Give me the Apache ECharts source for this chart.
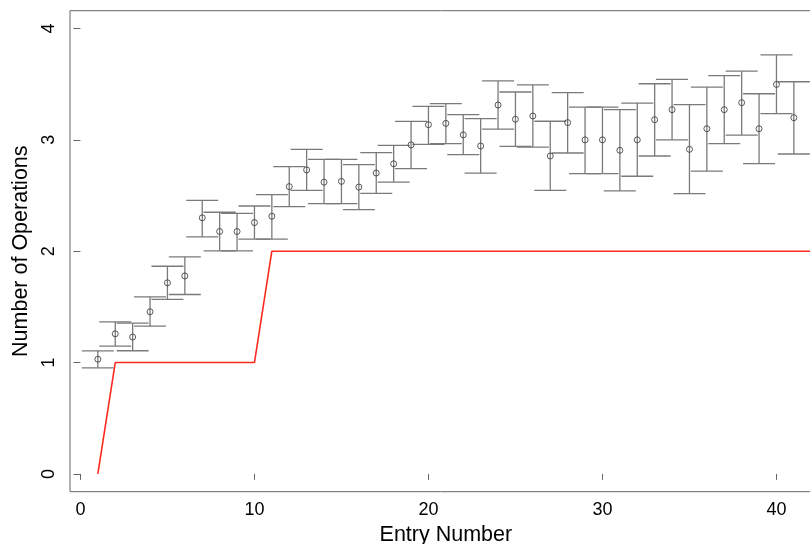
<!DOCTYPE html>
<html>
<head>
<meta charset="utf-8">
<script src="https://cdn.jsdelivr.net/npm/echarts@6/dist/echarts.min.js"></script>
<style>
  html, body { margin: 0; background: #fff; }
  #chart { width: 810px; height: 544px; }
</style>
</head>
<body>
<div id="chart"></div>
<script>
  // 每个条目的平均操作数及误差范围
  const entries = [1, 2, 3, 4, 5, 6, 7, 8, 9, 10, 11, 12, 13, 14, 15, 16, 17, 18, 19, 20,
    21, 22, 23, 24, 25, 26, 27, 28, 29, 30, 31, 32, 33, 34, 35, 36, 37, 38, 39, 40, 41];
  const means = [1.03, 1.258, 1.229, 1.456, 1.716, 1.778, 2.30, 2.177, 2.177, 2.257,
    2.314, 2.58, 2.73, 2.62, 2.627, 2.576, 2.702, 2.785, 2.955, 3.136,
    3.148, 3.045, 2.945, 3.313, 3.185, 3.214, 2.855, 3.155, 3.0, 3.0,
    2.906, 3.0, 3.181, 3.271, 2.915, 3.1, 3.271, 3.334, 3.1, 3.498, 3.199];
  const lower = [0.953, 1.148, 1.106, 1.327, 1.567, 1.611, 2.128, 2.003, 2.003, 2.108,
    2.108, 2.40, 2.547, 2.427, 2.427, 2.373, 2.52, 2.621, 2.742, 2.96,
    2.966, 2.867, 2.702, 3.097, 2.942, 2.935, 2.547, 2.882, 2.697, 2.697,
    2.541, 2.673, 2.855, 3.0, 2.517, 2.72, 2.966, 3.043, 2.786, 3.235, 2.873];
  const upper = [1.105, 1.366, 1.354, 1.59, 1.865, 1.949, 2.457, 2.35, 2.34, 2.406,
    2.508, 2.76, 2.915, 2.825, 2.825, 2.777, 2.886, 2.951, 3.166, 3.30,
    3.325, 3.227, 3.19, 3.529, 3.43, 3.493, 3.167, 3.424, 3.294, 3.294,
    3.271, 3.33, 3.504, 3.543, 3.316, 3.474, 3.576, 3.617, 3.414, 3.764, 3.522];

  // 红色阶梯线
  const stepX = [1, 2, 10, 11, 42.6];
  const stepY = [0, 1, 1, 2, 2];

  const xTicks = [0, 10, 20, 30, 40];
  const yTicks = [0, 1, 2, 3, 4];

  const chart = echarts.init(document.getElementById('chart'));

  const font = 'Liberation Sans, Arial, Helvetica, sans-serif';

  const option = {
    animation: false,
    grid: {
      left: 70,
      top: 10.7,
      width: 751.7,
      height: 481,
      show: true,
      borderColor: '#666',
      borderWidth: 1,
      backgroundColor: 'transparent',
      containLabel: false,
      outerBoundsMode: 'none'
    },
    xAxis: {
      type: 'value',
      min: -0.6,
      max: 42.6,
      name: 'Entry Number',
      nameLocation: 'middle',
      nameGap: 28,
      nameTextStyle: { fontFamily: font, fontSize: 21.5, color: '#000' },
      axisLine: { show: false },
      splitLine: { show: false },
      axisTick: {
        show: true,
        inside: false,
        length: 6,
        customValues: xTicks,
        lineStyle: { color: '#666', width: 1 }
      },
      axisLabel: {
        customValues: xTicks,
        margin: 9,
        fontFamily: font,
        fontSize: 18,
        color: '#000'
      }
    },
    yAxis: {
      type: 'value',
      min: -0.16,
      max: 4.16,
      name: 'Number of Operations',
      nameLocation: 'middle',
      nameGap: 37,
      nameTextStyle: { fontFamily: font, fontSize: 21.5, color: '#000' },
      axisLine: { show: false },
      splitLine: { show: false },
      axisTick: {
        show: true,
        inside: false,
        length: 7,
        customValues: yTicks,
        lineStyle: { color: '#666', width: 1 }
      },
      axisLabel: {
        customValues: yTicks,
        rotate: 90,
        margin: 12,
        fontFamily: font,
        fontSize: 18,
        color: '#000'
      }
    },
    series: [
      {
        type: 'line',
        data: stepX.map((x, i) => [x, stepY[i]]),
        symbol: 'none',
        lineStyle: { color: '#ff2a1f', width: 1.6 },
        z: 2
      },
      {
        type: 'custom',
        data: entries.map((x, i) => [x, lower[i], upper[i]]),
        renderItem(params, api) {
          const x = api.value(0);
          const lo = api.coord([x, api.value(1)]);
          const hi = api.coord([x, api.value(2)]);
          const cap = 16;
          const style = { stroke: '#7a7a7a', lineWidth: 1.3 };
          return {
            type: 'group',
            children: [
              { type: 'line', shape: { x1: lo[0], y1: lo[1], x2: hi[0], y2: hi[1] }, style },
              { type: 'line', shape: { x1: lo[0] - cap, y1: lo[1], x2: lo[0] + cap, y2: lo[1] }, style },
              { type: 'line', shape: { x1: hi[0] - cap, y1: hi[1], x2: hi[0] + cap, y2: hi[1] }, style }
            ]
          };
        },
        z: 3
      },
      {
        type: 'scatter',
        data: entries.map((x, i) => [x, means[i]]),
        symbol: 'circle',
        symbolSize: 6,
        itemStyle: { color: 'rgba(0,0,0,0)', borderColor: '#333', borderWidth: 1 },
        z: 4
      }
    ]
  };

  chart.setOption(option);
</script>
</body>
</html>
